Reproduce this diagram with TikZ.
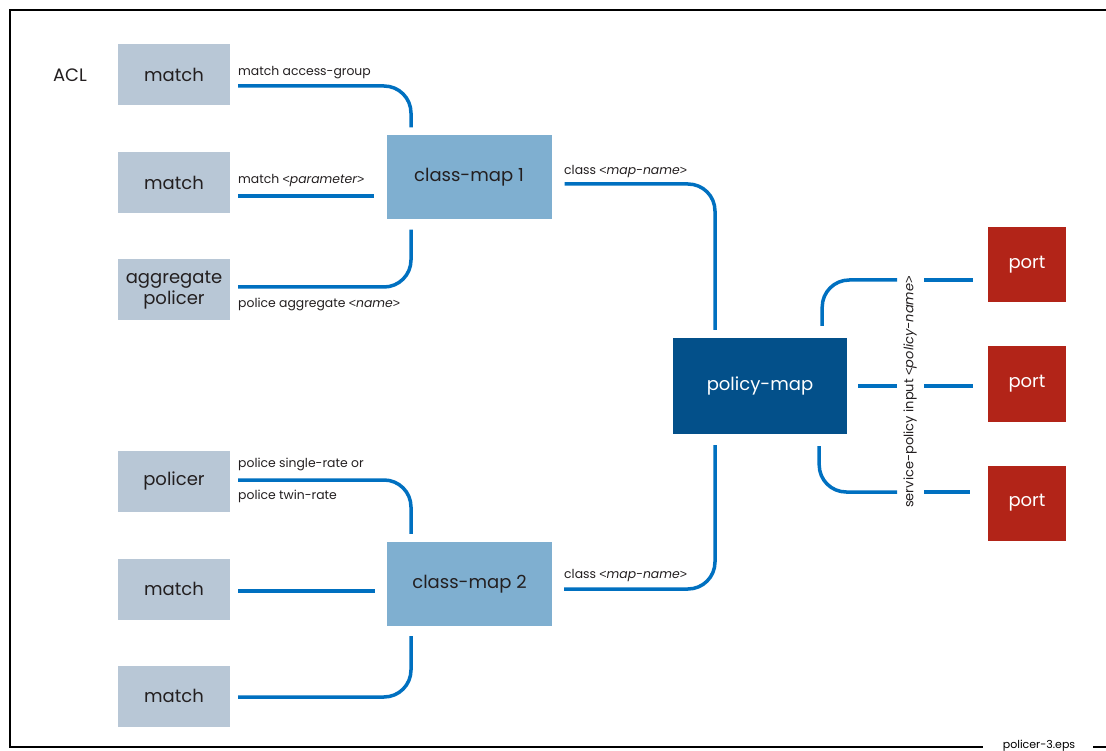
\documentclass[tikz,border=0pt]{standalone}
\usepackage{fontspec}
\setmainfont{Poppins}
\newfontfamily\bracketfont{Liberation Sans}
\newcommand{\lbr}{{\bracketfont<}}
\newcommand{\rbr}{{\bracketfont>}}
\usetikzlibrary{calc}
\definecolor{boxgrey}{RGB}{184,199,214}
\definecolor{cmapblue}{RGB}{127,175,208}
\definecolor{pmapblue}{RGB}{3,80,138}
\definecolor{portred}{RGB}{178,36,24}
\definecolor{wireblue}{RGB}{0,112,192}
\definecolor{ink}{RGB}{35,31,32}
\begin{document}
\begin{tikzpicture}[x=1pt,y=-1pt,
  big/.style={font=\fontsize{18}{23}\selectfont},
  small/.style={font=\fontsize{12.4}{14}\selectfont, text=ink},
  aclbox/.style={big, fill=boxgrey, text=ink, minimum width=112pt, minimum height=61pt, inner sep=0pt, align=center},
  cmapbox/.style={big, fill=cmapblue, text=ink, minimum width=165pt, minimum height=84pt, inner sep=0pt},
  pmapbox/.style={big, fill=pmapblue, text=white, minimum width=174pt, minimum height=96pt, inner sep=0pt},
  portbox/.style={big, fill=portred, text=white, minimum width=78pt, minimum height=75pt, inner sep=0pt},
  wire/.style={draw=wireblue, line width=3.5pt, rounded corners=27pt},
  lbl/.style={small, anchor=base west, inner sep=0pt}
]
\useasboundingbox (0,0) rectangle (1106,751);

% frame with the file name set into its bottom edge
\draw[line width=2pt, black] (1106,10) -- (10,10) -- (10,747) -- (983,747);
\draw[line width=2pt, black] (1093,747) -- (1106,747);
\node[font=\fontsize{11}{13}\selectfont, anchor=base, inner sep=0pt] (fname) at (1039,748) {policer-3.eps};

% match criteria and policers
\node[big, text=ink] (acl) at (70,75) {ACL};
\node[aclbox] (m1) at (174,75) {match};
\node[aclbox] (m2) at (174,183) {match};
\node[aclbox] (agg) at (174,290) {aggregate\\[-2pt]policer};
\node[aclbox] (pol) at (174,481) {policer};
\node[aclbox] (m4) at (174,589) {match};
\node[aclbox] (m5) at (174,696) {match};

% class maps, policy map and ports
\node[cmapbox] (cm1) at (469,177.5) {class-map 1};
\node[cmapbox] (cm2) at (469.5,584) {class-map 2};
\node[pmapbox] (pm) at (760,386) {policy-map};
\node[portbox] (p1) at (1027,265) {port};
\node[portbox] (p2) at (1027,384) {port};
\node[portbox] (p3) at (1027,503) {port};

% vertical label between policy map and ports
\node[small, font=\fontsize{13}{15}\selectfont, rotate=90, inner sep=0pt] (svc) at (910,392)
  {service-policy input \lbr\textit{policy-name}\rbr};
\coordinate (gapL) at (897,392);
\coordinate (gapR) at (924,392);

% wires into class-map 1
\draw[wire] ($(m1.east)+(8,11)$) -| ($(cm1.north)+(-58,-8)$);
\draw[wire] ($(m2.east)+(8,13)$) -- ($(m2.east -| cm1.west)+(-12,13)$);
\draw[wire] ($(agg.east)+(8,-3)$) -| ($(cm1.south)+(-58,10)$);
\node[lbl] (l1) at (238,76) {match access-group};
\node[lbl] (l2) at (238,184) {match \lbr\textit{parameter}\rbr};
\node[lbl] (l3) at (238,308) {police aggregate \lbr\textit{name}\rbr};

% wires into class-map 2
\draw[wire] ($(pol.east)+(8,-1)$) -| ($(cm2.north)+(-58.5,-8)$);
\draw[wire] ($(m4.east)+(8,2)$) -- ($(m4.east -| cm2.west)+(-12,2)$);
\draw[wire] ($(m5.east)+(8,1)$) -| ($(cm2.south)+(-58.5,10)$);
\node[lbl] (l4) at (238,467) {police single-rate or};
\node[lbl] (l5) at (238,499) {police twin-rate};

% class maps into the policy map
\draw[wire] ($(cm1.east)+(13,6.5)$) -| ($(pm.north)+(-45,-8)$);
\draw[wire] ($(cm2.east)+(12,5)$) -| ($(pm.south)+(-45,11)$);
\node[lbl] (l6) at (564,175) {class \lbr\textit{map-name}\rbr};
\node[lbl] (l7) at (564,578) {class \lbr\textit{map-name}\rbr};

% policy map out to the ports
\draw[wire] ($(pm.north east)+(-25,-12)$) |- ($(gapL |- p1.west)+(0,15)$);
\draw[wire] ($(gapR |- p1.west)+(0,15)$) -- ($(p1.west)+(-15,15)$);
\draw[wire] ($(pm.east)+(11,0)$) -- (gapL |- pm.east);
\draw[wire] (gapR |- pm.east) -- ($(p2.west |- pm.east)+(-15,0)$);
\draw[wire] ($(pm.south east)+(-28,12)$) |- ($(gapL |- p3.west)+(0,-11)$);
\draw[wire] ($(gapR |- p3.west)+(0,-11)$) -- ($(p3.west)+(-18,-11)$);
\end{tikzpicture}
\end{document}
